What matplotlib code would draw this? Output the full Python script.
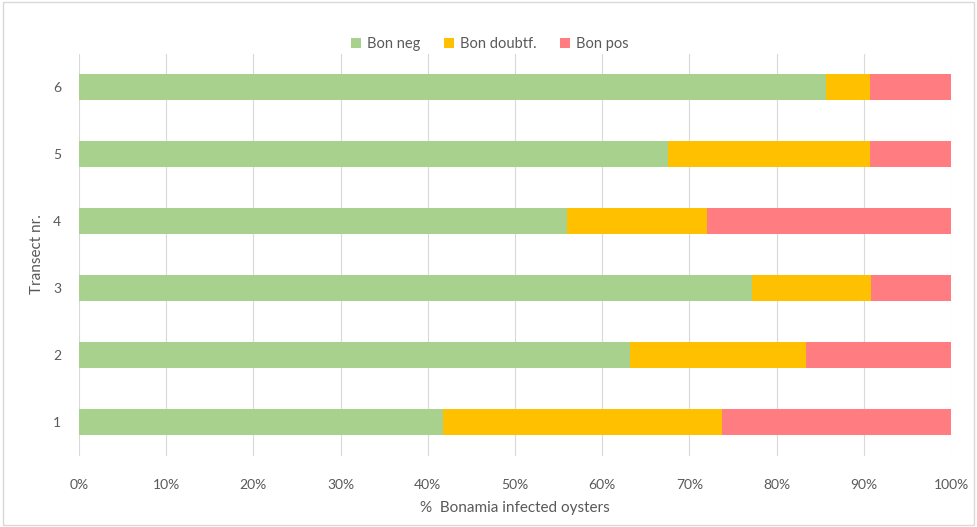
import matplotlib
matplotlib.use("Agg")
import matplotlib.pyplot as plt
from matplotlib.ticker import PercentFormatter
import numpy as np

transects = ["1", "2", "3", "4", "5", "6"]
bon_neg = [41.7, 63.2, 77.2, 56.0, 67.5, 85.7]
bon_doubtf = [32.0, 20.2, 13.6, 16.0, 23.2, 5.0]
bon_pos = [26.3, 16.6, 9.2, 28.0, 9.3, 9.3]
series_names = ["Bon neg", "Bon doubtf.", "Bon pos"]
colors = ["#A9D18E", "#FFC000", "#FF7C80"]

plt.rcParams['font.family'] = ['Lato', 'DejaVu Sans']
txt = "#595959"

fig = plt.figure(figsize=(9.77, 5.27), dpi=100)
ax = fig.add_axes([79/977, 1-455.5/527, (951-79)/977, (455.5-53.5)/527])

y = np.arange(1, len(transects) + 1)
left = np.zeros(len(transects))
for vals, name, c in zip([bon_neg, bon_doubtf, bon_pos], series_names, colors):
    ax.barh(y, vals, left=left, height=0.39, color=c, label=name, zorder=3)
    left = left + np.array(vals)

ax.set_xlim(0, 100)
ax.set_ylim(0.5, 6.5)
ax.set_xticks(np.arange(0, 101, 10))
ax.xaxis.set_major_formatter(PercentFormatter(100, decimals=0))
ax.set_yticks(y)
ax.set_yticklabels(transects)
ax.grid(axis='x', color='#D9D9D9', linewidth=0.8, zorder=0)
for s in ax.spines.values():
    s.set_visible(False)
ax.tick_params(length=0, colors=txt, labelsize=10)
ax.tick_params(axis='x', pad=17)
ax.tick_params(axis='y', pad=13)
ax.set_xlabel("%  Bonamia infected oysters", color=txt, fontsize=11, labelpad=7)
ax.set_ylabel("Transect nr.", color=txt, fontsize=11, labelpad=6)

leg = fig.legend(loc='center', bbox_to_anchor=(490/977, 1-44/527), ncol=3, frameon=False,
                 fontsize=10.5, handlelength=0.7, handleheight=0.7, columnspacing=1.6,
                 handletextpad=0.4)
for t in leg.get_texts():
    t.set_color(txt)

fig.patches.append(plt.Rectangle((0.003, 0.004), 0.994, 0.992, transform=fig.transFigure,
                                 fill=False, edgecolor='#D9D9D9', linewidth=1))
fig.savefig("out.png", dpi=100, facecolor='white')
